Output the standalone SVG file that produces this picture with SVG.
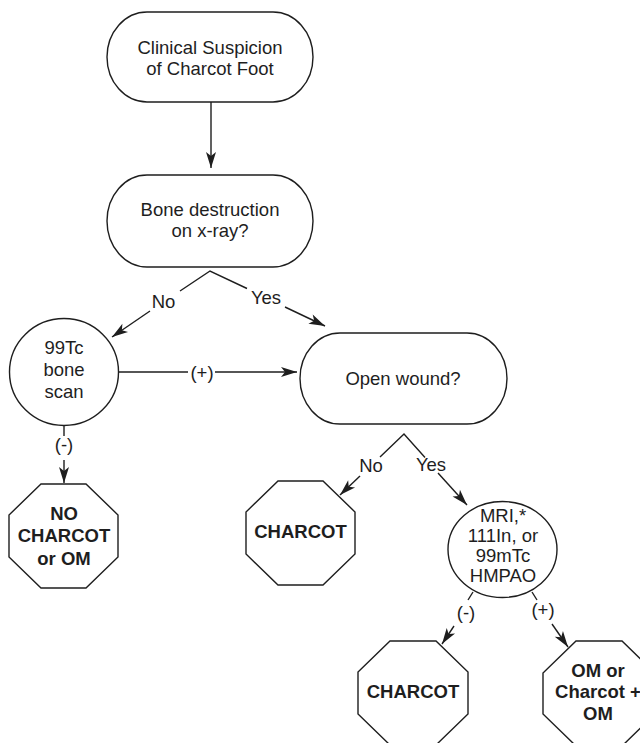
<svg xmlns="http://www.w3.org/2000/svg" width="640" height="743" viewBox="0 0 640 743">
  <style>
    .shape { fill: #ffffff; stroke: #1e1e1e; stroke-width: 1.4; }
    .edge { fill: none; stroke: #1e1e1e; stroke-width: 1.4; }
    .arrow { marker-end: url(#head); }
    text { font-family: "Liberation Sans", Arial, sans-serif; font-size: 18.5px; fill: #1e1e1e; text-anchor: middle; }
    .bold { font-weight: bold; }
  </style>
  <defs>
    <marker id="head" markerUnits="userSpaceOnUse" markerWidth="17" markerHeight="11" refX="16" refY="5" orient="auto" overflow="visible">
      <path d="M0,0 L16,5 L0,10 L4,5 Z" fill="#1e1e1e"/>
    </marker>
  </defs>
  <rect width="640" height="743" fill="#ffffff"/>

  <!-- Flowchart nodes -->
  <g id="start">
    <rect class="shape" x="107" y="12" width="206" height="90" rx="40" ry="45"/>
    <text x="210" y="54">Clinical Suspicion</text>
    <text x="210" y="75">of Charcot Foot</text>
  </g>
  <g id="xray">
    <rect class="shape" x="107" y="175" width="206" height="92" rx="40" ry="46"/>
    <text x="210" y="216">Bone destruction</text>
    <text x="210" y="237">on x-ray?</text>
  </g>
  <g id="bonescan">
    <ellipse class="shape" cx="64" cy="372" rx="54.5" ry="53.5"/>
    <text x="64" y="354">99Tc</text>
    <text x="64" y="376">bone</text>
    <text x="64" y="398">scan</text>
  </g>
  <g id="wound">
    <rect class="shape" x="300" y="333" width="207" height="91" rx="40" ry="45.5"/>
    <text x="403" y="385">Open wound?</text>
  </g>
  <g id="noCharcot">
    <polygon class="shape" points="41,484 86,484 118,515 118,557 86,588 41,588 9,557 9,515"/>
    <text class="bold" x="64" y="520">NO</text>
    <text class="bold" x="64" y="542">CHARCOT</text>
    <text class="bold" x="64" y="565">or OM</text>
  </g>
  <g id="charcot1">
    <polygon class="shape" points="278,481 323,481 355,512 355,554 323,585 278,585 246,554 246,512"/>
    <text class="bold" x="300.5" y="538">CHARCOT</text>
  </g>
  <g id="imaging">
    <ellipse class="shape" cx="502.5" cy="549.5" rx="54.5" ry="48"/>
    <text x="503" y="522">MRI,*</text>
    <text x="503" y="542">111In, or</text>
    <text x="503" y="562">99mTc</text>
    <text x="503" y="582">HMPAO</text>
  </g>
  <g id="charcot2">
    <polygon class="shape" points="390,641 436,641 468,672 468,714 436,745 390,745 358,714 358,672"/>
    <text class="bold" x="413" y="698">CHARCOT</text>
  </g>
  <g id="osteomyelitis">
    <polygon class="shape" points="576,641 622,641 655,673 655,714 622,746 576,746 543,714 543,673"/>
    <text class="bold" x="598" y="677">OM or</text>
    <text class="bold" x="598" y="698">Charcot +</text>
    <text class="bold" x="598" y="720">OM</text>
  </g>

  <!-- Connectors and their labels -->
  <g id="connectors">
    <line class="edge arrow" x1="211" y1="102" x2="211" y2="168"/>

    <!-- x-ray decision -->
    <polyline class="edge" points="180,291 210,271 247,288.5"/>
    <line class="edge arrow" x1="150" y1="311" x2="112" y2="337"/>
    <line class="edge arrow" x1="285" y1="307" x2="325" y2="326"/>
    <text x="163.5" y="308">No</text>
    <text x="266" y="304">Yes</text>

    <!-- bone scan positive -->
    <line class="edge" x1="118.5" y1="372" x2="188" y2="372"/>
    <line class="edge arrow" x1="215" y1="372" x2="297" y2="372"/>
    <text x="202" y="379">(+)</text>

    <!-- bone scan negative -->
    <line class="edge" x1="64" y1="425.5" x2="64" y2="436"/>
    <line class="edge arrow" x1="64" y1="460" x2="64" y2="483"/>
    <text x="64" y="451">(-)</text>

    <!-- wound decision -->
    <polyline class="edge" points="380,457 404,434 425,457.5"/>
    <line class="edge arrow" x1="360" y1="476" x2="340" y2="495"/>
    <line class="edge arrow" x1="438" y1="473" x2="467" y2="505"/>
    <text x="371" y="472">No</text>
    <text x="431" y="471">Yes</text>

    <!-- imaging results -->
    <line class="edge" x1="473" y1="592" x2="468" y2="600"/>
    <line class="edge arrow" x1="454" y1="626" x2="442" y2="644"/>
    <text x="466" y="619">(-)</text>
    <line class="edge" x1="532" y1="592" x2="537" y2="600"/>
    <line class="edge arrow" x1="552" y1="624" x2="568" y2="647"/>
    <text x="543" y="616">(+)</text>
  </g>
</svg>
